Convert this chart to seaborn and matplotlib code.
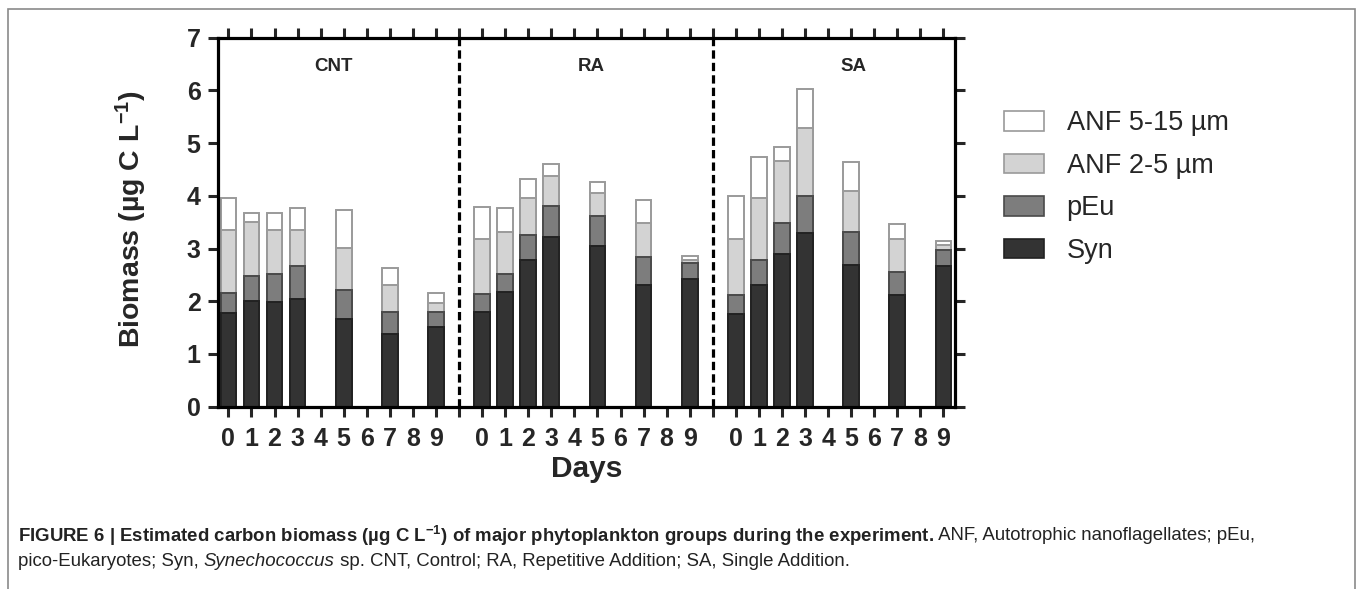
import matplotlib
matplotlib.use("Agg")
import pandas as pd
import seaborn as sns
import matplotlib.pyplot as plt
from matplotlib.patches import Patch, Rectangle

sns.set_style("ticks")
plt.rcParams['font.family'] = ['Liberation Sans', 'DejaVu Sans']
plt.rcParams['mathtext.fontset'] = 'custom'
plt.rcParams['mathtext.rm'] = 'Liberation Sans:bold'
plt.rcParams['mathtext.it'] = 'Liberation Sans:bold'
plt.rcParams['mathtext.bf'] = 'Liberation Sans:bold'

# data (segment heights, ug C / L)
treatments = ["CNT", "RA", "SA"]
days = [0, 1, 2, 3, 5, 7, 9]
syn = {"CNT": [1.77, 2.00, 1.98, 2.04, 1.66, 1.37, 1.51],
       "RA": [1.80, 2.18, 2.78, 3.22, 3.04, 2.31, 2.43],
       "SA": [1.76, 2.31, 2.90, 3.29, 2.68, 2.11, 2.66]}
peu = {"CNT": [0.38, 0.48, 0.53, 0.63, 0.55, 0.43, 0.29],
       "RA": [0.33, 0.33, 0.47, 0.58, 0.57, 0.53, 0.30],
       "SA": [0.35, 0.47, 0.58, 0.70, 0.63, 0.44, 0.31]}
anf_2_5 = {"CNT": [1.20, 1.03, 0.85, 0.69, 0.81, 0.51, 0.17],
           "RA": [1.06, 0.80, 0.70, 0.58, 0.44, 0.64, 0.06],
           "SA": [1.08, 1.17, 1.19, 1.29, 0.79, 0.64, 0.10]}
anf_5_15 = {"CNT": [0.60, 0.16, 0.31, 0.40, 0.72, 0.33, 0.19],
            "RA": [0.60, 0.45, 0.37, 0.22, 0.22, 0.44, 0.06],
            "SA": [0.80, 0.79, 0.26, 0.74, 0.55, 0.28, 0.07]}
title_pos = {"CNT": 4.55, "RA": 15.75, "SA": 27.1}

groups = ["ANF 5-15 \u00b5m", "ANF 2-5 \u00b5m", "pEu", "Syn"]
face = ["#ffffff", "#d3d3d3", "#7d7d7d", "#333333"]
edge = ["#9a9a9a", "#9a9a9a", "#4a4a4a", "#222222"]

# slot order: 10 days per treatment, one empty separator slot between
slots, tick_labels = [], []
for i, trt in enumerate(treatments):
    for d in range(10):
        slots.append(f"{trt}{d}")
        tick_labels.append(str(d))
    if i < len(treatments) - 1:
        slots.append(f"sep{i}")
        tick_labels.append("")

rows = []
for trt in treatments:
    for j, d in enumerate(days):
        s, p, a, b = syn[trt][j], peu[trt][j], anf_2_5[trt][j], anf_5_15[trt][j]
        rows.append({"slot": f"{trt}{d}", "c1": s, "c2": s + p,
                     "c3": s + p + a, "c4": s + p + a + b})
df = pd.DataFrame(rows)

fig = plt.figure(figsize=(13.58, 5.89), dpi=100)
ax = fig.add_axes([218 / 1358, 1 - 406.7 / 589, 737 / 1358, 369 / 589])

# overlapping cumulative bars -> stacked look
for col, fc, ec in zip(["c4", "c3", "c2", "c1"], face, edge):
    sns.barplot(data=df, x="slot", y=col, order=slots, color=fc, saturation=1,
                edgecolor=ec, linewidth=1.4, width=0.68, errorbar=None, ax=ax)

ax.vlines([10, 21], 0, 7, colors="black", linestyles=(0, (2.6, 1.3)), lw=2.3, zorder=5)

for trt in treatments:
    ax.text(title_pos[trt], 6.45, trt, ha="center", va="center",
            fontsize=13.5, fontweight="bold")

ax.set_xlim(-0.45, len(slots) - 0.5)
ax.set_ylim(0, 7)
ax.set_yticks(range(8))
ax.set_xticks(range(len(slots)))
ax.set_xticklabels(tick_labels, fontsize=18, fontweight="bold")
ax.set_yticklabels([str(v) for v in range(8)], fontsize=18, fontweight="bold")
ax.tick_params(axis="both", direction="out", length=7.5, width=2.2,
               top=True, right=True, labeltop=False, labelright=False)
ax.tick_params(axis="x", pad=7)
ax.tick_params(axis="y", pad=5)
for sp in ax.spines.values():
    sp.set_linewidth(2.3)
    sp.set_color("black")
    sp.set_visible(True)

ax.set_xlabel("Days", fontsize=21.5, fontweight="bold", labelpad=3)
ax.set_ylabel("")
fig.text(131 / 1358, 1 - 219 / 589, "Biomass (\u00b5g C L$^{-1}$)", rotation=90,
         ha="center", va="center", fontsize=20.5, fontweight="bold")

handles = [Patch(facecolor=fc, edgecolor=ec, linewidth=1.2) for fc, ec in zip(face, edge)]
fig.legend(handles, groups, loc="upper left", bbox_to_anchor=(980 / 1358, 1 - 86 / 589),
           frameon=False, fontsize=19.5, handlelength=1.48, handleheight=0.74,
           handletextpad=0.82, labelspacing=0.61)

# caption
fig.add_artist(Rectangle((8 / 1358, -0.1), 1347 / 1358, 1.1 - 9 / 589,
                         transform=fig.transFigure, fill=False,
                         edgecolor="#8a8a8a", lw=1.2))
renderer = fig.canvas.get_renderer()


def put_run(x, y, parts):
    for txt, weight, style in parts:
        t = fig.text(x, y, txt, fontsize=13.4, fontweight=weight, fontstyle=style,
                     color="#222222", ha="left", va="center")
        bb = t.get_window_extent(renderer)
        x = bb.x1 / fig.bbox.width


put_run(18 / 1358, 1 - 536 / 589, [
    ("FIGURE 6 | Estimated carbon biomass (\u00b5g C L$^{-1}$) of major phytoplankton "
     "groups during the experiment.", "bold", "normal"),
    (" ANF, Autotrophic nanoflagellates; pEu,", "normal", "normal")])
put_run(18 / 1358, 1 - 561 / 589, [
    ("pico-Eukaryotes; Syn, ", "normal", "normal"),
    ("Synechococcus", "normal", "italic"),
    (" sp. CNT, Control; RA, Repetitive Addition; SA, Single Addition.", "normal", "normal")])

fig.savefig("out.png", dpi=100, facecolor="white")
